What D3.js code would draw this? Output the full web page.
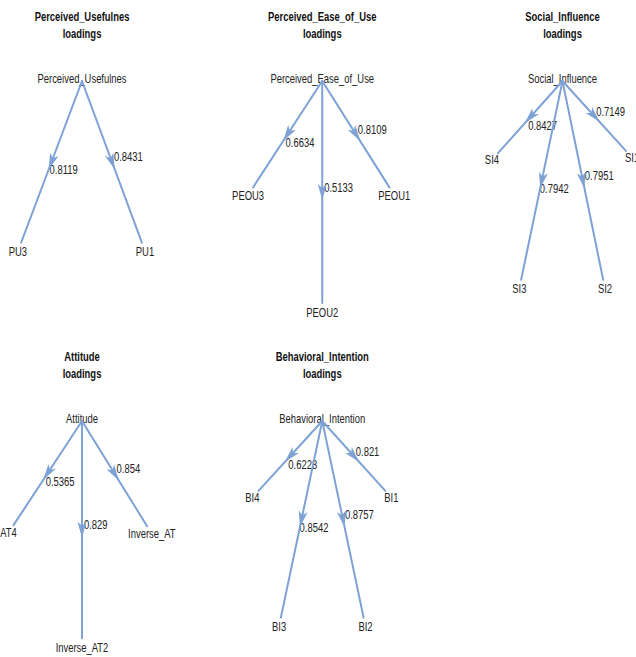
<!DOCTYPE html>
<html>
<head>
<meta charset="utf-8">
<script src="https://cdn.jsdelivr.net/npm/d3@7"></script>
<style>
  html, body { margin: 0; padding: 0; background: #fff; }
  svg { display: block; }
</style>
</head>
<body>
<svg id="chart"></svg>
<script>
// latent factors, one panel each
var factors = ['Perceived_Usefulnes', 'Perceived_Ease_of_Use', 'Social_Influence', 'Attitude', 'Behavioral_Intention'];

// indicators per factor (left to right as laid out)
var indicators = [
    ['PU3', 'PU1'],
    ['PEOU3', 'PEOU2', 'PEOU1'],
    ['SI4', 'SI3', 'SI2', 'SI1'],
    ['AT4', 'Inverse_AT2', 'Inverse_AT'],
    ['BI4', 'BI3', 'BI2', 'BI1']
];

// standardized loadings
var loadings = [
    [0.8119, 0.8431],
    [0.6634, 0.5133, 0.8109],
    [0.8427, 0.7942, 0.7951, 0.7149],
    [0.5365, 0.829, 0.854],
    [0.6223, 0.8542, 0.8757, 0.821]
];

// tree layout of the indicators (unit coords: x -1..1, depth 0..1)
var layoutX = [
    [-0.89, 0.875],
    [-1.03, 0, 1.0],
    [-0.98, -0.6, 0.59, 0.965],
    [-1.02, 0, 0.97],
    [-0.97, -0.6, 0.6, 0.96]
];
var layoutY = [
    [0.74, 0.74],
    [0.5, 1.0, 0.5],
    [0.35, 0.9, 0.9, 0.34],
    [0.49, 0.98, 0.495],
    [0.34, 0.89, 0.89, 0.34]
];

(function () {
    var W = 636, H = 657;
    var FONT = "'Liberation Sans', Arial, sans-serif";
    var FONT_SIZE = 13;
    var SQUEEZE = 0.725;     // narrow look, glyphs are tall and condensed
    var EDGE = '#7ea2d6';
    var NODE_R = 9;          // invisible node radius, edges stop there

    var svg = d3.select('#chart').attr('width', W).attr('height', H);
    svg.append('rect').attr('width', W).attr('height', H).attr('fill', '#fff');

    var colX = d3.scaleLinear().domain([0, 2]).range([82, 562.5]);
    var rowY = d3.scaleLinear().domain([0, 1]).range([78, 418]);
    var spreadX = d3.scaleLinear().domain([-1, 1]).range([-72, 72]);
    var depthY = d3.scaleLinear().domain([0, 1]).range([0, 234]);

    var gText = svg.append('g');
    var gEdges = svg.append('g');
    var gArrows = svg.append('g');

    function label(x, y, txt, anchor, bold) {
        var t = gText.append('text')
            .attr('transform', 'translate(' + x + ',' + y + ') scale(' + SQUEEZE + ',1)')
            .attr('font-family', FONT)
            .attr('font-size', FONT_SIZE)
            .attr('text-anchor', anchor || 'middle')
            .attr('dy', '0.35em')
            .attr('fill', bold ? '#111' : '#222')
            .text(txt);
        if (bold) t.attr('font-weight', 700);
        return t;
    }

    factors.forEach(function (name, i) {
        var cx = colX(i % 3), cy = rowY(Math.floor(i / 3));

        // title
        label(cx, cy - 62, name, 'middle', true);
        label(cx, cy - 44.5, 'loadings', 'middle', true);

        // root node
        label(cx, cy, name);
        var ox = cx, oy = cy + 3;

        indicators[i].forEach(function (ind, j) {
            var lx = cx + spreadX(layoutX[i][j]);
            var ly = cy + depthY(layoutY[i][j]);
            label(lx, ly, ind);

            // edge trimmed at node border
            var dx = lx - ox, dy = ly - oy;
            var len = Math.sqrt(dx * dx + dy * dy);
            var ux = dx / len, uy = dy / len;
            var ex = lx - ux * NODE_R, ey = ly - uy * NODE_R;

            gEdges.append('line')
                .attr('x1', ox).attr('y1', oy)
                .attr('x2', ex).attr('y2', ey)
                .attr('stroke', EDGE)
                .attr('stroke-width', 2)
                .attr('stroke-linecap', 'round');

            // arrowhead at the middle, pointing to the indicator
            var mx = (ox + ex) / 2, my = (oy + ey) / 2;
            var nx = -uy, ny = ux;
            var tip = [mx + ux * 8, my + uy * 8];
            var bx = mx - ux * 8, by = my - uy * 8;
            gArrows.append('path')
                .attr('d', 'M' + tip[0] + ',' + tip[1] +
                    'L' + (bx + nx * 4.5) + ',' + (by + ny * 4.5) +
                    'L' + (mx - ux * 4) + ',' + (my - uy * 4) +
                    'L' + (bx - nx * 4.5) + ',' + (by - ny * 4.5) + 'Z')
                .attr('fill', EDGE);

            // loading value beside the arrow
            if (dx < -0.5) label(mx - 2, my + 8, String(loadings[i][j]), 'start');
            else label(mx + 2, my - 5, String(loadings[i][j]), 'start');
        });
    });
})();
</script>
</body>
</html>
